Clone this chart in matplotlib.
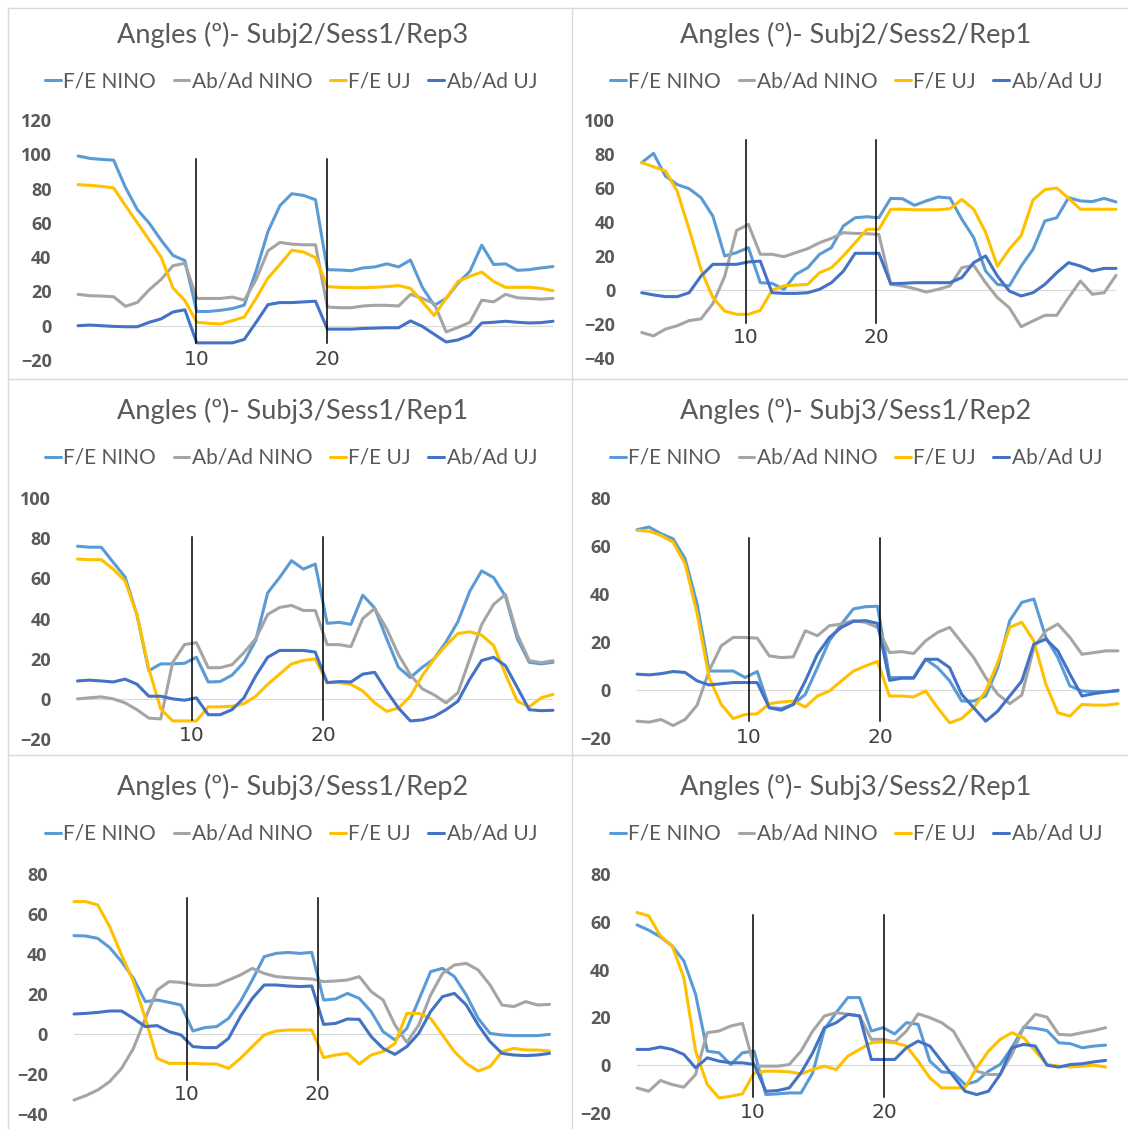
import matplotlib
matplotlib.use("Agg")
import matplotlib.pyplot as plt
from matplotlib.lines import Line2D

# ---------------- data ----------------
series_names = ["F/E NINO", "Ab/Ad NINO", "F/E UJ", "Ab/Ad UJ"]
series_colors = ["#5B9BD5", "#A5A5A5", "#FFC000", "#4472C4"]
titles = ["Angles (º)- Subj2/Sess1/Rep3", "Angles (º)- Subj2/Sess2/Rep1",
          "Angles (º)- Subj3/Sess1/Rep1", "Angles (º)- Subj3/Sess1/Rep2",
          "Angles (º)- Subj3/Sess1/Rep2", "Angles (º)- Subj3/Sess2/Rep1"]
marker_labels = ["10", "20"]

p1_fe_nino = [99, 97.6, 97, 96.6, 80.6, 67.7, 59.8, 49.9, 41, 38, 8.3, 8.3, 9, 10, 12, 32, 55, 70, 77, 76, 73.5,
              32.7, 32.5, 32.1, 33.7, 34.3, 36.1, 34.3, 38.3, 22.4, 11.9, 15.9, 24.8, 31.7, 47, 35.7, 36.1, 32.3, 32.7, 33.7, 34.5]
p1_abad_nino = [18.3, 17.5, 17.3, 16.9, 11.3, 13.6, 21, 27, 35, 36.4, 15.9, 15.9, 15.9, 16.7, 14.9, 27, 43.7, 48.6, 47.6, 47.2, 47.2,
                10.9, 10.5, 10.5, 11.5, 11.9, 11.9, 11.5, 18.3, 15.9, 12.9, -3.6, -1, 2, 14.9, 13.9, 18.3, 16.3, 15.9, 15.5, 15.9]
p1_fe_uj = [82.3, 81.9, 81.3, 80.4, 70, 60, 50, 40, 22, 14.7, 2, 1.4, 1, 3, 5, 16, 27.8, 35.7, 44, 43, 39.7,
            22.8, 22.4, 22.2, 22.2, 22.4, 22.8, 23.4, 21.8, 13.9, 6, 15.9, 25.8, 28.8, 31.3, 25.8, 22.4, 22.4, 22.4, 21.8, 20.4]
p1_abad_uj = [0, 0.4, 0, -0.4, -0.6, -0.6, 2, 4, 8, 9.3, -10, -10, -10, -10, -8, 2, 12.3, 13.5, 13.5, 13.9, 14.3,
              -2, -2, -2, -1.6, -1.4, -1.2, -1.2, 2.8, -0.4, -5, -9.5, -8.3, -5.6, 1.6, 2, 2.6, 2, 1.6, 1.8, 2.6]

p2_fe_nino = [74.9, 80.4, 67, 62, 59.6, 54.3, 43.5, 20, 22, 24.9, 4.3, 3.9, 0.4, 9.2, 13.1, 21, 24.9, 37.6, 42.5, 43.1, 42.5,
              53.9, 53.7, 49.8, 52.4, 54.7, 54.1, 41.6, 30.8, 11.2, 3.3, 2.4, 14.1, 23.9, 40.6, 42.5, 54.3, 52.4, 52, 53.9, 51.8]
p2_abad_nino = [-25, -27, -23, -21, -18, -17, -8, 8, 35, 38.6, 21, 21, 19.6, 22, 24.3, 27.8, 30.4, 33.7, 33.3, 33.1, 32.7,
                3.3, 2.4, 0.8, -1.2, 0.4, 2.4, 13.1, 14.5, 4.3, -4.5, -10.4, -21.6, -18.2, -14.9, -14.9, -4.5, 5.3, -2.5, -1.6, 8.6]
p2_fe_uj = [74.9, 72.5, 70, 58, 35.7, 12, -4.5, -12.4, -14.3, -14.3, -12, 0, 2.4, 2.9, 3.3, 10.2, 13.1, 20, 27.8, 35.7, 35.7,
            47.5, 47.5, 47.2, 47.2, 47.2, 47.8, 53.3, 47.5, 34, 14, 24, 32, 53, 59, 60, 54, 47.5, 47.5, 47.5, 47.5]
p2_abad_uj = [-1.6, -2.9, -3.9, -3.9, -1.6, 8.2, 15.1, 15.1, 15.1, 16.5, 17, -1.6, -2, -2, -1.6, 0.4, 4.3, 11, 21.6, 21.6, 21.6,
              3.7, 3.9, 4.3, 4.3, 4.3, 4.3, 7.3, 16.1, 20, 8.2, -0.6, -3.5, -1.6, 3.3, 10.2, 16.1, 14.1, 11.2, 12.7, 12.7]

p3_fe_nino = [76, 75.5, 75.5, 68, 60.7, 41.8, 14, 17.4, 17.4, 17.7, 20.7, 8.4, 8.6, 11.8, 18.2, 29.2, 52.8, 60.4, 68.8, 64.6, 67.1,
              37.6, 38.1, 37.1, 51.6, 45.2, 30, 15.7, 10.6, 15.7, 19.9, 28.3, 38.4, 53.6, 63.7, 60.4, 51.1, 30, 18.2, 17.4, 18.2]
p3_abad_nino = [0, 0.5, 1, 0, -2, -5.4, -9.6, -10, 18, 27, 28, 15.5, 15.5, 17, 23, 30, 42, 45.5, 46.5, 44, 44,
                27, 27, 26, 40, 45, 35, 22, 12, 5, 2, -2, 3, 20, 37, 47, 52, 32, 19, 18, 19]
p3_fe_uj = [69.6, 69.3, 69.3, 64.6, 58.7, 42, 15, -5, -11, -11, -11, -4, -4, -3.7, -2.4, 1.3, 7.2, 12.3, 17.4, 19.1, 19.9,
            8.1, 8.1, 7.2, 3.9, -2, -6.2, -4.6, 1.3, 11.5, 19.9, 26.6, 32.5, 33.4, 31.7, 26.6, 12.3, -1.2, -4, 0.5, 2.2]
p3_abad_uj = [8.9, 9.3, 8.9, 8.4, 9.8, 7.3, 1.3, 1.3, 0, -0.7, 0.5, -7.9, -7.9, -5.4, 0.5, 11.5, 20.7, 24.1, 24.1, 24.1, 23.3,
              8.1, 8.6, 8.4, 12.3, 13.2, 3.9, -4.6, -11, -10.5, -8.8, -5.4, -1.2, 9.8, 19.1, 20.7, 16.5, 5.6, -5.4, -5.9, -5.7]

p4_fe_nino = [66.8, 67.9, 65.1, 63, 54.7, 35.8, 7.9, 7.9, 7.9, 5.2, 7.7, -7.4, -7.7, -6, -1.8, 9.3, 20.5, 27.5, 33.8, 34.7, 34.9,
              5.2, 5.2, 5.2, 12.8, 9.3, 3.8, -4.6, -4.6, -2.5, 9.3, 28.9, 36.5, 37.9, 21.9, 13.5, 1.7, -0.4, -0.7, -0.7, -0.4]
p4_abad_nino = [-13, -13.4, -12.3, -14.8, -12.3, -6.3, 8, 18.4, 21.9, 21.9, 21.6, 14.2, 13.5, 13.8, 24.7, 22.6, 26.8, 27.5, 28.9, 28.2, 26.1,
                15.6, 16, 15.2, 20.5, 24, 26.1, 19.8, 13.5, 5.2, -1.8, -5.7, -2.1, 17.7, 24.7, 27.5, 21.9, 14.9, 15.6, 16.3, 16.3]
p4_fe_uj = [66.5, 66.2, 64.4, 61.6, 52.6, 31.7, 5.2, -6, -11.9, -10.2, -9.9, -5.7, -5, -4.6, -7.1, -2.5, -0.4, 3.8, 7.9, 10, 11.9,
            -2.5, -2.5, -2.9, -0.4, -7.4, -13.7, -11.9, -7.4, -0.4, 11.4, 26.1, 28.2, 20.5, 2.4, -9.5, -10.9, -6, -6.3, -6.3, -5.7]
p4_abad_uj = [6.6, 6.3, 6.8, 7.7, 7.3, 3.8, 2.1, 2.6, 3.1, 3.1, 3.1, -7.4, -8.4, -6, 3.8, 14.9, 21.9, 26.1, 28.6, 28.9, 27.8,
              4, 4.9, 4.9, 12.8, 12.8, 9.3, -1.8, -7.4, -13, -8.8, -2.5, 3.8, 19.1, 21.2, 16.3, 6.6, -2.5, -1.5, -0.8, -0.1]

p5_fe_nino = [49.2, 49, 47.8, 43.2, 36.2, 27.8, 16.2, 17, 15.8, 14.5, 1.5, 3.2, 3.7, 7.8, 16.2, 27, 38.7, 40.3, 40.8, 40.3, 40.8,
              17, 17.5, 20.3, 17.8, 11.2, 1.2, -3, 2.8, 17, 31.2, 32.8, 28.7, 19.5, 7.8, 0.3, -0.5, -0.8, -0.8, -0.8, -0.2]
p5_abad_nino = [-33, -30.8, -28, -23.8, -17.2, -7.2, 7.8, 22, 26.2, 25.8, 24.5, 24.2, 24.5, 27, 29.5, 32.8, 30.3, 28.7, 28.2, 27.8, 27.5,
                26.2, 26.5, 27, 28.7, 21.2, 17, 4.5, -4.2, 4.5, 19.5, 30.3, 34.5, 35.3, 32, 24.5, 14.5, 13.7, 16.2, 14.5, 14.8]
p5_fe_uj = [66.2, 66.2, 64.5, 53.7, 39.5, 26.2, 7.8, -12.2, -14.7, -14.7, -14.7, -15, -15, -17.2, -12.2, -6.3, -0.5, 1.5, 2, 2, 2,
            -11.8, -10.5, -9.7, -15, -10.5, -8.8, -4.7, 10.3, 10.3, 7.8, -0.5, -8.8, -14.7, -18.5, -16.3, -8.8, -7.2, -8, -8, -8.5]
p5_abad_uj = [10, 10.3, 10.8, 11.5, 11.5, 7.8, 3.7, 4.2, 1.2, -0.5, -6.3, -6.8, -6.8, -2.2, 8.7, 17.8, 24.5, 24.5, 24, 23.7, 24,
              4.8, 5.3, 7.5, 7.3, -1.3, -7.2, -10.2, -6.3, 0.3, 11.2, 18.7, 20.3, 14.5, 4.5, -3.8, -9.7, -10.5, -10.8, -10.5, -9.7]

p6_fe_nino = [58.7, 56.5, 53.7, 49.9, 43.6, 29.7, 5.9, 5.2, 0.3, 5.2, 5.9, -12.3, -12, -11.6, -11.6, -3.2, 15, 22, 28.3, 28.3, 14.3,
              15.7, 13.1, 17.8, 17.1, 1.7, -2.8, -3.2, -8.1, -6.7, -2.5, 0.3, 7.3, 15.9, 15.4, 14.5, 9.4, 9, 7.3, 8, 8.4]
p6_abad_nino = [-9.5, -10.9, -6.4, -8.1, -9.2, -3.9, 13.6, 14.3, 16.4, 17.5, -0.4, -0.4, -0.4, 0.3, 5.9, 14.3, 20.6, 22, 21.3, 20.6, 10.8,
                10.8, 9.7, 14.3, 21.5, 19.9, 17.8, 14.3, 5.9, -2.5, -3.9, -3.9, 4.5, 15.7, 21.3, 20.1, 12.9, 12.6, 13.6, 14.5, 15.7]
p6_fe_uj = [63.9, 62.5, 54.1, 49.9, 36.6, 5.9, -8.1, -13.7, -13, -12, -3.2, -2.5, -2.5, -2.8, -3.6, -1.8, -0.4, -1.8, 3.8, 6.6, 9.4,
            9.8, 9.4, 8, 1.7, -5.3, -9.5, -9.5, -9.5, -1.1, 5.9, 10.8, 13.6, 11.5, 5.9, 0.3, -0.4, -0.7, -0.4, 0, -0.8]
p6_abad_uj = [6.6, 6.6, 7.6, 6.6, 4.5, -1.1, 3.1, 1.7, 1, 1, 0.3, -10.9, -10.6, -9.5, -3.2, 5.2, 15.7, 17.8, 21.3, 20.6, 2.4,
              2.4, 2.4, 7.3, 10.1, 8, 1.7, -4.6, -10.9, -12.3, -10.9, -3.9, 7.3, 8.7, 8, 0, -0.8, 0.3, 0.6, 1.4, 2]

panel_series = [
    [p1_fe_nino, p1_abad_nino, p1_fe_uj, p1_abad_uj],
    [p2_fe_nino, p2_abad_nino, p2_fe_uj, p2_abad_uj],
    [p3_fe_nino, p3_abad_nino, p3_fe_uj, p3_abad_uj],
    [p4_fe_nino, p4_abad_nino, p4_fe_uj, p4_abad_uj],
    [p5_fe_nino, p5_abad_nino, p5_fe_uj, p5_abad_uj],
    [p6_fe_nino, p6_abad_nino, p6_fe_uj, p6_abad_uj],
]
y_ranges = [(-20, 120), (-40, 100), (-20, 100), (-20, 80), (-40, 80), (-20, 80)]
# annotation marker lines: x positions (sample index) and vertical extents
marker_x = [(9.97, 21.0), (8.8, 19.8), (9.64, 20.67), (9.29, 20.2), (9.48, 20.5), (9.9, 21.1)]
marker_span = [(-10, 97), (-19.4, 88), (-10.6, 80.7), (-12.8, 63.3), (-23, 68), (-13.3, 62.8)]
marker_label_y = [-19.7, -28.2, -18.5, -19.6, -30.5, -19.7]

# ---------------- layout (pixels) ----------------
W, H = 1128, 1129
# x0, x1, ytop, ybot
axes_px = [(78, 553, 120, 360), (641.7, 1116, 120, 358),
           (77.5, 553, 498, 739), (637, 1118, 498, 738),
           (74, 549.5, 874, 1114), (637, 1105.6, 874, 1113)]
title_pos = [(293, 35), (856, 35), (293, 411), (856, 411), (293, 787), (856, 787)]
legend_pos = [(291, 81), (856, 81), (291, 458), (856, 458), (291, 834), (856, 834)]

TXT = "#595959"
plt.rcParams["font.family"] = ["Lato", "DejaVu Sans"]

fig = plt.figure(figsize=(W / 100, H / 100), dpi=100)
fig.patch.set_facecolor("white")

def fx(x):
    return x / W

def fy(y):
    return 1 - y / H

# chart borders
border = "#D9D9D9"
for (xa, ya, xb, yb) in [(8, 8, 1128, 8), (8, 8, 8, 1129), (572, 8, 572, 1129),
                         (8, 379, 1128, 379), (8, 755, 1128, 755)]:
    fig.add_artist(Line2D([fx(xa), fx(xb)], [fy(ya), fy(yb)], transform=fig.transFigure,
                          color=border, lw=1.0))

for k in range(6):
    x0, x1, yt, yb = axes_px[k]
    ax = fig.add_axes([fx(x0), fy(yb), (x1 - x0) / W, (yb - yt) / H])
    ax.set_facecolor("none")
    n = len(panel_series[k][0])
    xs = list(range(n))
    handles = []
    for vals, name, col in zip(panel_series[k], series_names, series_colors):
        h, = ax.plot(xs, vals, color=col, lw=2.2, solid_joinstyle="round", solid_capstyle="round",
                     label=name, clip_on=False)
        handles.append(h)
    ax.axhline(0, color="#D9D9D9", lw=0.8, zorder=0)
    ymin, ymax = y_ranges[k]
    ax.set_xlim(0, n - 1)
    ax.set_ylim(ymin, ymax)
    ax.set_yticks(range(ymin, ymax + 1, 20))
    ax.set_xticks([])
    for s in ax.spines.values():
        s.set_visible(False)
    ax.tick_params(axis="y", length=0, pad=19, labelcolor=TXT)
    for lab in ax.get_yticklabels():
        lab.set_fontfamily("Open Sans")
        lab.set_fontweight("bold")
        lab.set_fontsize(13)
    # marker lines with labels
    lo, hi = marker_span[k]
    for mx, mlab in zip(marker_x[k], marker_labels):
        ax.plot([mx, mx], [lo, hi], color="black", lw=1.1, clip_on=False, zorder=5)
        ax.text(mx, marker_label_y[k], mlab, ha="center", va="center", fontsize=14.5,
                color="#404040", family="DejaVu Sans", clip_on=False)
    # title and legend
    tx, ty = title_pos[k]
    fig.text(fx(tx), fy(ty), titles[k], ha="center", va="center", fontsize=19.5, color=TXT)
    lx, ly = legend_pos[k]
    fig.legend(handles, series_names, loc="center", bbox_to_anchor=(fx(lx), fy(ly)), ncol=4,
               frameon=False, prop={"size": 15}, labelcolor=TXT, handlelength=0.75,
               handletextpad=0.12, columnspacing=0.85, borderpad=0, borderaxespad=0)

fig.savefig("out.png", dpi=100, facecolor="white")
